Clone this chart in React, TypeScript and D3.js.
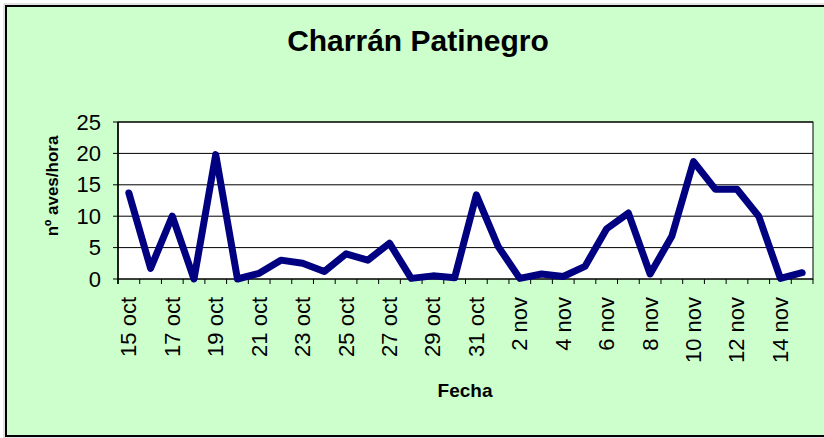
import React from 'react';
import * as d3 from 'd3';

// fechas y nº aves/hora
const dates = [
  '15 oct', '16 oct', '17 oct', '18 oct', '19 oct', '20 oct', '21 oct', '22 oct',
  '23 oct', '24 oct', '25 oct', '26 oct', '27 oct', '28 oct', '29 oct', '30 oct',
  '31 oct', '1 nov', '2 nov', '3 nov', '4 nov', '5 nov', '6 nov', '7 nov',
  '8 nov', '9 nov', '10 nov', '11 nov', '12 nov', '13 nov', '14 nov', '15 nov',
];
const values = [
  13.7, 1.7, 10.0, 0, 19.8, 0, 0.9, 3.0,
  2.5, 1.2, 4.0, 3.0, 5.7, 0.1, 0.5, 0.2,
  13.4, 5.2, 0.1, 0.8, 0.4, 2.0, 8.0, 10.5,
  0.8, 6.8, 18.7, 14.3, 14.3, 10.0, 0.1, 1.0,
];
const yTicks = [0, 5, 10, 15, 20, 25];

const W = 824, H = 438;
const plot = { left: 118, right: 813, top: 122, bottom: 279 };
const font = '"Liberation Sans", Arial, sans-serif';

export default function App() {
  const x = d3.scaleBand<string>().domain(dates).range([plot.left, plot.right]).padding(0);
  const y = d3.scaleLinear().domain([0, 25]).range([plot.bottom, plot.top]);
  const cx = (d: string) => (x(d) as number) + x.bandwidth() / 2;

  const line = d3.line<number>()
    .x((_, i) => cx(dates[i]))
    .y(v => y(v));

  const boundaries = d3.range(dates.length + 1).map(i => plot.left + i * x.bandwidth());

  return (
    <>
      <style>{'body{margin:0}'}</style>
      <svg width={W} height={H} style={{ display: 'block', fontFamily: font }}>
        <rect x={0} y={0} width={W} height={H} fill="#ffffff" />
        <rect x={4} y={4} width={840} height={434} fill="none" stroke="#c8c8c8" strokeWidth={1} />
        <rect x={6} y={6} width={840} height={430} fill="#CCFFCC" stroke="#000" strokeWidth={2} />

        <text x={418} y={51} textAnchor="middle" fontWeight="bold" fontSize={30}>Charrán Patinegro</text>

        {/* área de trazado */}
        <rect x={plot.left} y={plot.top} width={plot.right - plot.left} height={plot.bottom - plot.top}
          fill="#fff" stroke="#000" strokeWidth={1} />
        {yTicks.map(t => (
          <g key={t}>
            <line x1={plot.left - 5} x2={plot.right} y1={y(t)} y2={y(t)} stroke="#000" strokeWidth={1} />
            <text x={101} y={y(t)} textAnchor="end" dominantBaseline="central" fontSize={22}>{t}</text>
          </g>
        ))}
        <line x1={plot.left} x2={plot.left} y1={plot.top} y2={plot.bottom + 5} stroke="#000" strokeWidth={1.5} />
        {boundaries.map((b, i) => (
          <line key={i} x1={b} x2={b} y1={plot.bottom} y2={plot.bottom + 5} stroke="#000" strokeWidth={1} />
        ))}
        {dates.map((d, i) => i % 2 === 0 ? (
          <text key={d} transform={`translate(${cx(d)},297) rotate(-90)`} textAnchor="end"
            dominantBaseline="central" fontSize={22}>{d}</text>
        ) : null)}

        <path d={line(values) ?? ''} fill="none" stroke="#000080" strokeWidth={7}
          strokeLinejoin="round" strokeLinecap="round" />

        <text transform="translate(58,186) rotate(-90)" textAnchor="middle" fontWeight="bold" fontSize={17}>nº aves/hora</text>
        <text x={465} y={397} textAnchor="middle" fontWeight="bold" fontSize={19}>Fecha</text>
      </svg>
    </>
  );
}
